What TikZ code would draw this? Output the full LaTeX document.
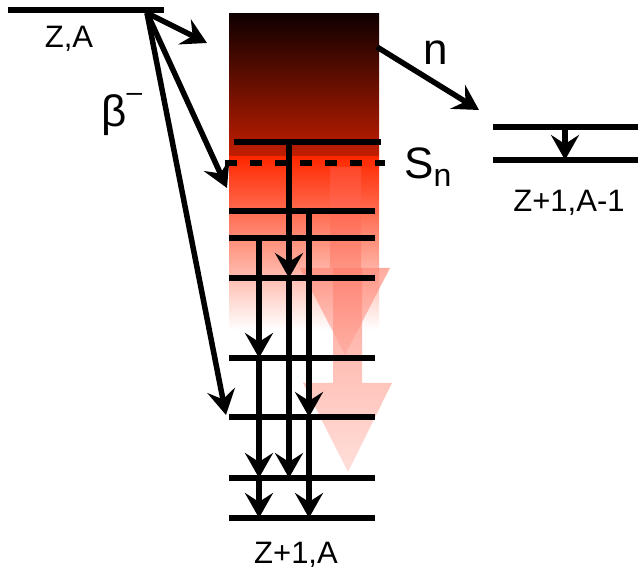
\documentclass[tikz,border=0pt]{standalone}
\usepackage{fontspec}
\setmainfont{Liberation Sans}
\usetikzlibrary{arrows.meta}

\definecolor{contTop}{RGB}{15,0,0}
\definecolor{contMid}{RGB}{195,30,0}
\definecolor{hotTop}{RGB}{255,40,0}
\definecolor{hotMid}{RGB}{255,112,96}
\definecolor{glowTop}{RGB}{255,80,55}
\definecolor{glowBot}{RGB}{255,185,175}
\definecolor{glowTopB}{RGB}{255,125,108}
\definecolor{glowBotB}{RGB}{255,210,202}

\tikzset{
  level/.style={line width=5.5pt},
  trans/.style={line width=5.5pt, -{Stealth[length=25pt,width=28pt,inset=9pt]}},
  biglabel/.style={font=\fontsize{44}{50}\selectfont, inner sep=0pt},
  nucl/.style={font=\fontsize{31}{36}\selectfont, inner sep=0pt},
  glow/.style={shading=axis, fill opacity=0.7, draw=none}
}

\begin{document}
\begin{tikzpicture}[x=1pt,y=-1pt]
\useasboundingbox (0,0) rectangle (638,572);

% continuum above and below S_n
\shade[top color=contTop, bottom color=contMid] (229,14) rectangle (379,157);
\shade[top color=hotTop, middle color=hotMid, bottom color=white] (229,157) rectangle (379,330);

% feeding towards the ground state
\shade[glow, top color=glowTop, bottom color=glowBot]
  (330,167) -- (361,167) -- (361,268) -- (390,268) -- (345,355) -- (300,268) -- (330,268) -- cycle;
\shade[glow, top color=glowTopB, bottom color=glowBotB]
  (333,268) -- (362,268) -- (362,383) -- (392,383) -- (348,472) -- (303,383) -- (333,383) -- cycle;

% mother
\coordinate (za0) at (8,10);
\coordinate (za1) at (164,10);
\draw[level] (za0) -- (za1);
\node[nucl, anchor=base] (zalab) at (69,48) {Z,A};

% daughter levels
\coordinate (e0) at (234,142);
\foreach \n/\y in {1/211,2/238,3/278,4/358,5/417,6/478,7/518}
  \coordinate (e\n) at (229,\y);
\coordinate (sn0) at (225,163);
\coordinate (sn1) at (385,163);
\draw[level] (e0) -- ++(147,0);
\draw[level, dash pattern=on 12pt off 13pt] (sn0) -- (sn1);
\foreach \n in {1,...,7}
  \draw[level] (e\n) -- ++(146,0);
\node[nucl, anchor=base] (zplab) at (296,563) {Z+1,A};
\node[biglabel, anchor=base west] (snlab) at (404,179) {S\raisebox{-8pt}{\fontsize{32}{34}\selectfont n}};

% gamma cascades
\coordinate (ca) at (259,0);
\coordinate (cb) at (289,0);
\coordinate (cc) at (309,0);
\draw[trans] (e0 -| cb) -- (e3 -| cb);
\draw[trans] (e3 -| cb) -- (e6 -| cb);
\draw[trans] (e2 -| ca) -- (e4 -| ca);
\draw[trans] (e4 -| ca) -- (e6 -| ca);
\draw[trans] (e6 -| ca) -- (e7 -| ca);
\draw[trans] (e1 -| cc) -- (e5 -| cc);
\draw[trans] (e5 -| cc) -- (e7 -| cc);

% beta feeding
\coordinate (bs) at (147,13);
\coordinate (b1) at (207,43);
\coordinate (b2) at (227,188);
\coordinate (b3) at (226,415);
\draw[trans] (bs) -- (b1);
\draw[trans] (bs) -- (b2);
\draw[trans] (bs) -- (b3);
\node[biglabel, anchor=base west] (betalab) at (101,127) {β\raisebox{25pt}{\fontsize{28}{30}\selectfont –}};

% neutron emission
\coordinate (n0) at (377,47);
\coordinate (n1) at (479,110);
\draw[trans] (n0) -- (n1);
\node[biglabel, anchor=base] (nlab) at (436,65) {n};

% Z+1,A-1
\coordinate (r0) at (493,127);
\coordinate (r1) at (493,160);
\draw[level] (r0) -- ++(145,0);
\draw[level] (r1) -- ++(145,0);
\draw[trans] (r0 -| 565,0) -- (r1 -| 565,0);
\node[nucl, anchor=base] (zpnlab) at (569,212) {Z+1,A-1};
\end{tikzpicture}
\end{document}
